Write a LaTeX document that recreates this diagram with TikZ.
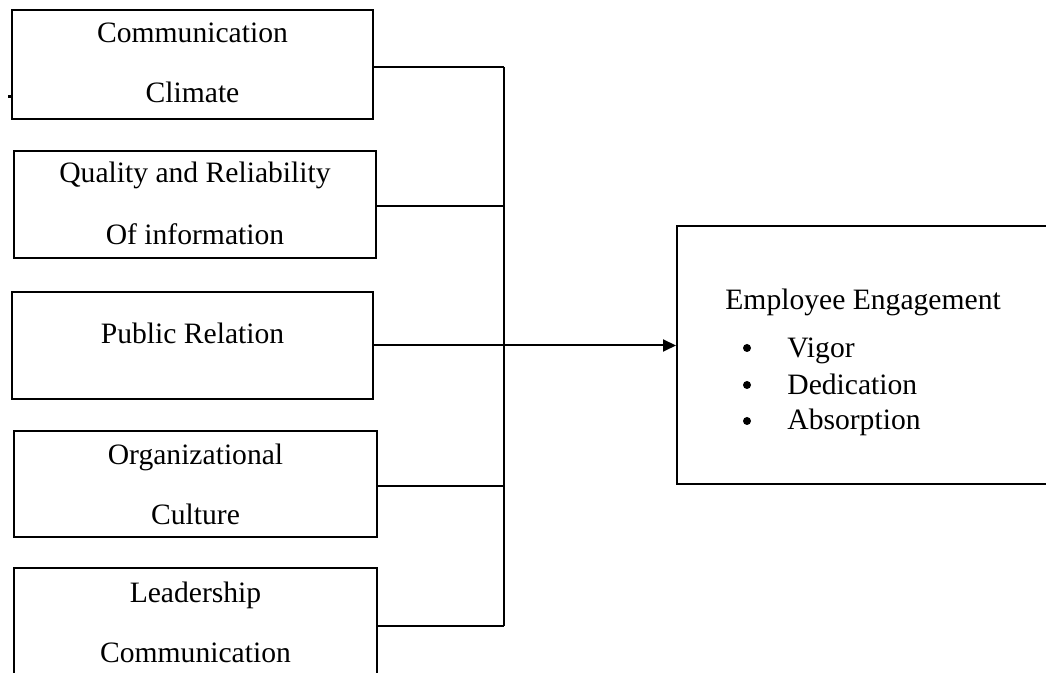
\documentclass[tikz,border=0pt]{standalone}
\usepackage{fontspec}
\setmainfont{Liberation Serif}
\usetikzlibrary{arrows.meta}
\begin{document}
\begin{tikzpicture}[x=0.5pt,y=-0.5pt,
  box/.style={draw, line width=1pt, inner sep=0pt},
  lbl/.style={anchor=base, inner sep=0pt, font=\fontsize{14.8pt}{17.8pt}\selectfont},
  lblw/.style={anchor=base west, inner sep=0pt, font=\fontsize{14.8pt}{17.8pt}\selectfont},
  dot/.style={circle, fill, inner sep=0pt, minimum size=4pt},
  wire/.style={line width=1pt}]
\useasboundingbox (0,0) rectangle (1046,673);
\clip (0,0) rectangle (1046,673);
\fill[white] (0,0) rectangle (1046,673);
% boxes
\node[box, minimum width=180.5pt, minimum height=54.5pt] (b1) at (192.5,64.5) {};
\node[box, minimum width=181pt, minimum height=53.5pt] (b2) at (195,204.5) {};
\node[box, minimum width=180.5pt, minimum height=53.5pt] (b3) at (192.5,345.5) {};
\node[box, minimum width=181.5pt, minimum height=53pt] (b4) at (195.5,484) {};
\node[box, minimum width=181.5pt, minimum height=54.5pt] (b5) at (195.5,622.5) {};
\node[box, minimum width=191.5pt, minimum height=129pt] (emp) at (868.5,355) {};
% small mark
\fill (8,95) rectangle (11,98);
% texts
\node[lbl] (t1a) at (192.5,43) {Communication};
\node[lbl] (t1b) at (192.5,103) {Climate};
\node[lbl] (t2a) at (195,183) {Quality and Reliability};
\node[lbl] (t2b) at (195,245) {Of information};
\node[lbl] (t3) at (192.5,344) {Public Relation};
\node[lbl] (t4a) at (195.5,465) {Organizational};
\node[lbl] (t4b) at (195.5,525) {Culture};
\node[lbl] (t5a) at (195.5,603) {Leadership};
\node[lbl] (t5b) at (195.5,663) {Communication};
\node[lblw] (et) at (725,310) {Employee Engagement};
\node[dot] (u1) at (747,348) {};
\node[dot] (u2) at (747,385) {};
\node[dot] (u3) at (747,421) {};
\node[lblw] (i1) at (787,358) {Vigor};
\node[lblw] (i2) at (787,395) {Dedication};
\node[lblw] (i3) at (787,430) {Absorption};
% connectors
\coordinate (j1) at (504,67);
\coordinate (j2) at (504,206);
\coordinate (j4) at (504,486);
\coordinate (j5) at (504,626);
\draw[wire] (b1.east |- j1) -- (j1);
\draw[wire] (b2.east |- j2) -- (j2);
\draw[wire] (b4.east |- j4) -- (j4);
\draw[wire] (b5.east |- j5) -- (j5);
\draw[wire] (j1) -- (j5);
\draw[wire, -{Triangle[length=6.5pt,width=6pt]}] (b3.east) -- (b3.east -| emp.west);
\end{tikzpicture}
\end{document}
